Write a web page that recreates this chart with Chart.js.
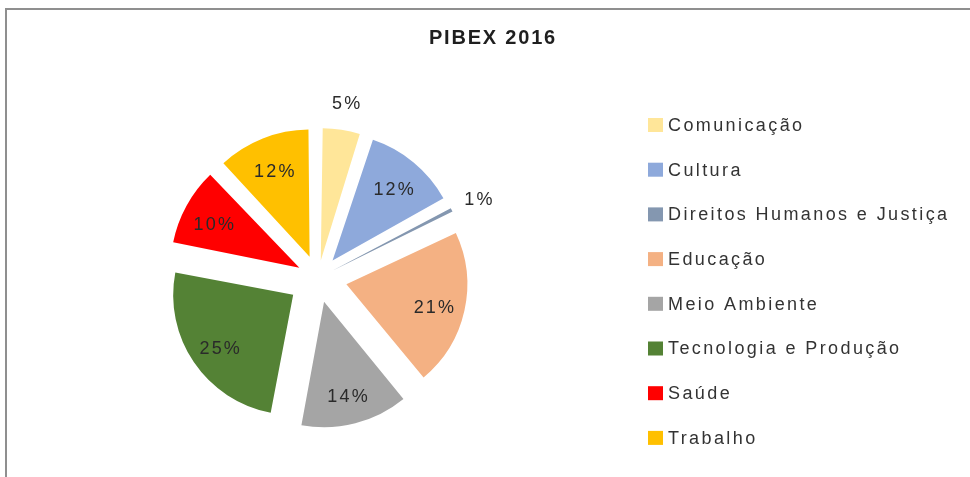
<!DOCTYPE html>
<html><head><meta charset="utf-8">
<script src="https://cdn.jsdelivr.net/npm/chart.js@4.4.1/dist/chart.umd.min.js"></script>
<style>
html,body{margin:0;padding:0;background:#fff;overflow:hidden}
#wrap{position:relative;width:970px;height:477px;overflow:hidden}
#frame{position:absolute;left:5px;top:8px;width:1000px;height:500px;border-left:2px solid #8f8f8f;border-top:2px solid #8f8f8f}
canvas{position:absolute;left:0;top:0}
</style></head><body>
<div id="wrap"><div id="frame"></div><canvas id="c" width="970" height="477"></canvas></div>
<script>
const chartTitle = 'PIBEX 2016';
const categories = ['Comunicação','Cultura','Direitos Humanos e Justiça','Educação','Meio Ambiente','Tecnologia e Produção','Saúde','Trabalho'];
const values = [5, 12, 1, 21, 14, 25, 10, 12];
const colors = ['#FFE699','#8EA9DB','#8497B0','#F4B183','#A5A5A5','#548235','#FF0000','#FFC000'];

const TEXT_FONT = '"Liberation Sans", Arial, sans-serif';
const EXPLODE = 30; // uniform explosion distance in px

// Chart.js v4 moves an arc by offset/4 * (2 - sin(min(PI, circumference))).
// Compute the option value that yields a uniform pixel explosion.
function displacementFactor(circ) {
  return (2 - Math.sin(Math.min(Math.PI, circ))) / 4;
}
function sliceCirc(i) {
  const total = values.reduce((a, b) => a + b, 0);
  return values[i] / total * Math.PI * 2;
}

const titlePlugin = {
  id: 'titlePlugin',
  afterDraw(chart) {
    const ctx = chart.ctx;
    ctx.save();
    ctx.font = 'bold 20px ' + TEXT_FONT;
    if ('letterSpacing' in ctx) ctx.letterSpacing = '1.8px';
    ctx.fillStyle = '#1f1f1f';
    ctx.textAlign = 'center';
    ctx.textBaseline = 'middle';
    ctx.fillText(chartTitle, 493, 38);
    ctx.restore();
  }
};

const legendPlugin = {
  id: 'sideLegend',
  afterDraw(chart) {
    const ctx = chart.ctx;
    const labels = chart.data.labels;
    const bg = chart.data.datasets[0].backgroundColor;
    ctx.save();
    ctx.font = '18px ' + TEXT_FONT;
    if ('letterSpacing' in ctx) ctx.letterSpacing = '2.4px';
    ctx.textBaseline = 'middle';
    ctx.textAlign = 'left';
    labels.forEach((lab, i) => {
      const yc = 125 + i * 44.7;
      ctx.fillStyle = bg[i];
      ctx.fillRect(648, yc - 7, 15, 14);
      ctx.fillStyle = '#333333';
      ctx.fillText(lab, 668, yc + 1);
    });
    ctx.restore();
  }
};

const sliceLabels = {
  id: 'sliceLabels',
  afterDatasetsDraw(chart) {
    const ctx = chart.ctx;
    const meta = chart.getDatasetMeta(0);
    const data = chart.data.datasets[0].data;
    const total = data.reduce((a, b) => a + b, 0);
    ctx.save();
    ctx.font = '18px ' + TEXT_FONT;
    if ('letterSpacing' in ctx) ctx.letterSpacing = '2.2px';
    ctx.fillStyle = '#2a2a2a';
    ctx.textAlign = 'center';
    ctx.textBaseline = 'middle';
    meta.data.forEach((arc, i) => {
      const p = arc.getProps(['x','y','startAngle','endAngle','outerRadius'], true);
      const circ = p.endAngle - p.startAngle;
      const disp = (arc.options.offset || 0) * displacementFactor(circ);
      const mid = (p.startAngle + p.endAngle) / 2;
      const pct = Math.round(data[i] / total * 100);
      const d = pct <= 5 ? disp + p.outerRadius + 30 : disp + p.outerRadius * 0.74;
      ctx.fillText(pct + '%', p.x + Math.cos(mid) * d + 1, p.y + Math.sin(mid) * d + 4);
    });
    ctx.restore();
  }
};

new Chart(document.getElementById('c'), {
  type: 'pie',
  data: {
    labels: categories,
    datasets: [{
      data: values,
      backgroundColor: colors,
      borderWidth: 0,
      offset: (c) => EXPLODE / displacementFactor(sliceCirc(c.dataIndex)),
      hoverOffset: 0,
      radius: 120
    }]
  },
  options: {
    responsive: false,
    animation: false,
    events: [],
    layout: { padding: { left: 0, right: 334, top: 140, bottom: 61 } },
    plugins: {
      legend: { display: false },
      title: { display: false },
      tooltip: { enabled: false }
    }
  },
  plugins: [sliceLabels, legendPlugin, titlePlugin]
});
</script>
</body></html>
